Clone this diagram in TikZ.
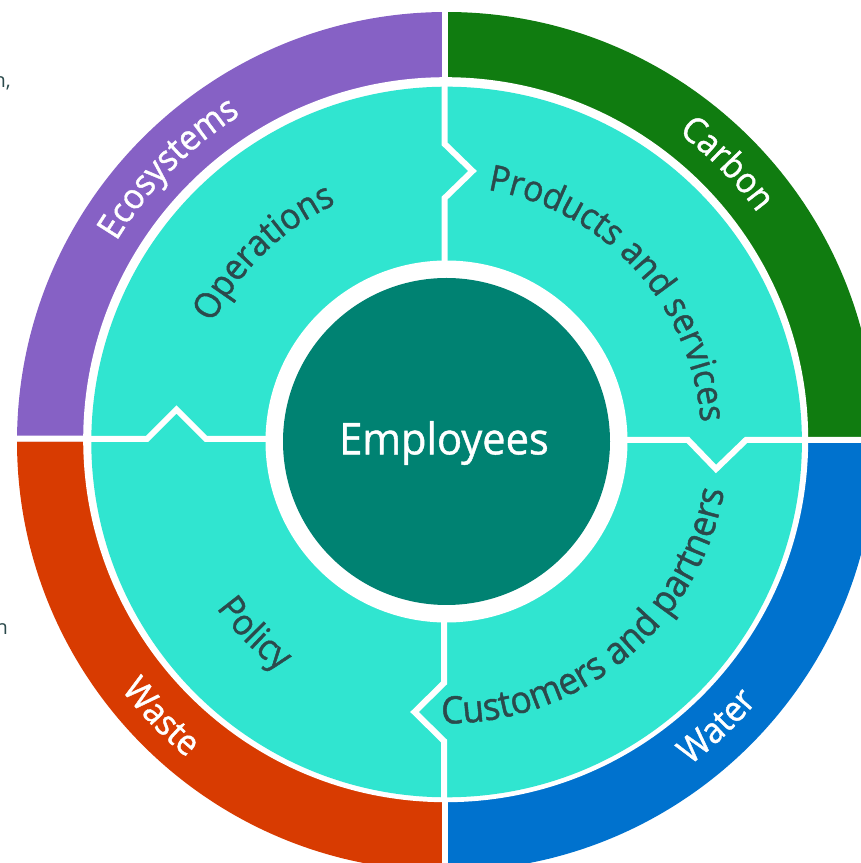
\documentclass[tikz,border=0pt]{standalone}
\usepackage{fontspec}
\setmainfont{Open Sans}
\newfontfamily\heavyfont[FakeBold=1.2,FakeStretch=0.93]{Open Sans}
\newfontfamily\centrefont[FakeBold=1,FakeStretch=0.95]{Open Sans}
\usetikzlibrary{decorations.text,calc}
\definecolor{cPurple}{HTML}{8661C5}
\definecolor{cGreen}{HTML}{107C10}
\definecolor{cBlue}{HTML}{0072CE}
\definecolor{cRed}{HTML}{D83B01}
\definecolor{cTeal}{HTML}{30E5D0}
\definecolor{cDeep}{HTML}{008272}
\definecolor{cInk}{HTML}{2B4A4C}
\newcommand\ringfont{\heavyfont\fontsize{35.5}{36}\selectfont\color{white}}
\newcommand\innerfont{\heavyfont\fontsize{36}{36}\selectfont\color{cInk}}
\newcommand\widefont{\heavyfont\fontsize{37.8}{38}\selectfont\color{cInk}}
\tikzset{
  sector/.style={line width=0pt},
  seam/.style={draw=white,line width=6pt,line join=miter,miter limit=10},
  curved/.style={decorate,decoration={text along path,text align=center,text={#1}}},
}
% clockwise label: letter tops point outwards
\newcommand\cwlabel[4]{\path[curved={|#4|#3}] ($(ctr)+(#2+50:#1)$) arc[start angle=#2+50,end angle=#2-50,radius=#1];}
% counterclockwise label: letter tops point inwards
\newcommand\ccwlabel[4]{\path[curved={|#4|#3}] ($(ctr)+(#2-50:#1)$) arc[start angle=#2-50,end angle=#2+50,radius=#1];}
\begin{document}
\begin{tikzpicture}[x=1pt,y=1pt]
\useasboundingbox (0,0) rectangle (861,863);
\clip (0,0) rectangle (861,863);
\coordinate (ctr) at (446.5,421.5);
\coordinate (hole) at (445.7,423.3);
\coordinate (midc) at (446.6,421);
% outer ring
\fill[cGreen,sector]  (ctr) -- ++(0:429.5) arc[start angle=0,end angle=90,radius=429.5] -- cycle;
\fill[cPurple,sector] (ctr) -- ++(90:429.5) arc[start angle=90,end angle=180,radius=429.5] -- cycle;
\fill[cRed,sector]    (ctr) -- ++(180:429.5) arc[start angle=180,end angle=270,radius=429.5] -- cycle;
\fill[cBlue,sector]   (ctr) -- ++(270:429.5) arc[start angle=270,end angle=360,radius=429.5] -- cycle;
\coordinate (ringN) at (445,863); \coordinate (ringS) at (445,0);
\coordinate (ringW) at (0,424.5); \coordinate (ringE) at (861,423);
\draw[seam] (ringN) -- (ringS);
\draw[seam] (ringW) -- (ringE);
% middle disc
\fill[white] (hole) circle[radius=362.5];
\node[circle,fill=cTeal,minimum size=710.6pt,inner sep=0pt] (midDisc) at (midc) {};
% jigsaw seams
\coordinate (n1) at (444.7,863-144);
\coordinate (nT) at (472.5,863-171);
\coordinate (n2) at (444.7,863-198);
\coordinate (nTop) at (444.7,863-80);
\coordinate (nIn) at (444.7,863-300);
\draw[seam] (nIn) -- (n2) -- (nT) -- (n1) -- (nTop);
\coordinate (e1) at (688,863-440);
\coordinate (eT) at (716,863-469);
\coordinate (e2) at (746,863-440);
\coordinate (eIn) at (600,863-440);
\coordinate (eOut) at (806,863-440);
\draw[seam] (eIn) -- (e1) -- (eT) -- (e2) -- (eOut);
\coordinate (s1) at (444,863-683);
\coordinate (sT) at (414.5,863-712);
\coordinate (s2) at (444,863-741);
\coordinate (sIn) at (444,863-600);
\coordinate (sOut) at (444,863-800);
\draw[seam] (sIn) -- (s1) -- (sT) -- (s2) -- (sOut);
\coordinate (w1) at (147,863-439);
\coordinate (wT) at (176.5,863-409.5);
\coordinate (w2) at (206,863-439);
\coordinate (wIn) at (300,863-439);
\coordinate (wOut) at (85,863-439);
\draw[seam] (wIn) -- (w2) -- (wT) -- (w1) -- (wOut);
% centre
\node[circle,fill=white,minimum size=362pt,inner sep=0pt] (hub) at (ctr) {};
\node[circle,fill=cDeep,minimum size=327pt,inner sep=0pt] (core) at (ctr) {};
\node[text=white,inner sep=0pt,font=\centrefont\fontsize{43.8}{44}\selectfont] (employees) at ($(ctr)+(-2.5,-1.5)$) {Employees};
% ring labels
\cwlabel{386}{135.5}{Ecosystems}{\ringfont}
\cwlabel{386}{44.7}{Carbon}{\ringfont}
\ccwlabel{405}{-46.5}{Water}{\ringfont}
\ccwlabel{409}{-136}{Waste}{\ringfont}
% inner labels
\cwlabel{262}{134}{Operations}{\innerfont}
\cwlabel{255}{42.5}{Products and services}{\innerfont}
\ccwlabel{282}{-50.5}{Customers and partners}{\widefont}
\ccwlabel{284}{-135}{Policy}{\innerfont}
% cropped page text at the left edge
\node[anchor=base east,inner sep=0pt,text=cInk,font=\fontsize{20}{20}\selectfont] (cropA) at (11,863-88) {n,};
\node[anchor=base east,inner sep=0pt,text=cInk,font=\fontsize{20}{20}\selectfont] (cropB) at (8,863-635) {n};
\end{tikzpicture}
\end{document}
